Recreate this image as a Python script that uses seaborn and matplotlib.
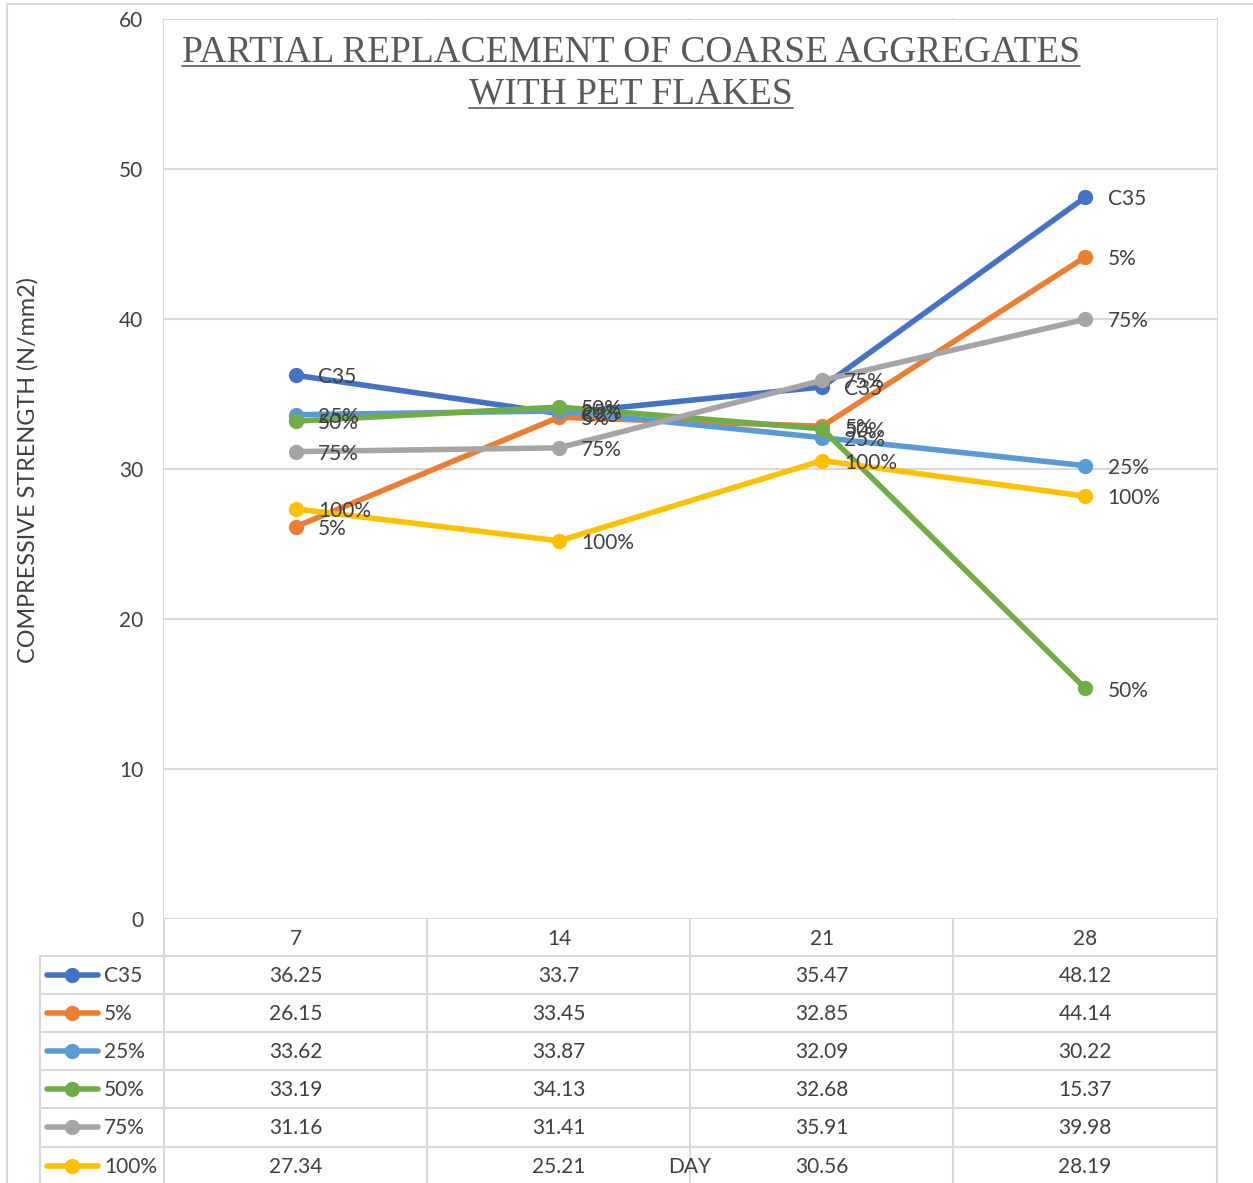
import numpy as np
import pandas as pd
import seaborn as sns
import matplotlib
matplotlib.use("Agg")
import matplotlib.pyplot as plt
from matplotlib.lines import Line2D

days = ["7", "14", "21", "28"]
series = ["C35", "5%", "25%", "50%", "75%", "100%"]
c35 = [36.25, 33.7, 35.47, 48.12]
p5 = [26.15, 33.45, 32.85, 44.14]
p25 = [33.62, 33.87, 32.09, 30.22]
p50 = [33.19, 34.13, 32.68, 15.37]
p75 = [31.16, 31.41, 35.91, 39.98]
p100 = [27.34, 25.21, 30.56, 28.19]
colors = ["#4472C4", "#ED7D31", "#5B9BD5", "#70AD47", "#A5A5A5", "#FFC000"]

values = [c35, p5, p25, p50, p75, p100]
df = pd.DataFrame({
    "day": days * len(series),
    "mix": np.repeat(series, len(days)),
    "strength": np.concatenate(values),
})

W, H = 1253, 1183
GRID = "#d9d9d9"
TXT = "#404040"
FONT = ["Lato", "DejaVu Sans"]
FS = 15

sns.set_style("white")
plt.rcParams["font.family"] = FONT


def fx(x):
    return x / W


def fy(y):
    return 1 - y / H


fig = plt.figure(figsize=(W / 100, H / 100), dpi=100)
ax = fig.add_axes([fx(164), fy(919), fx(1217) - fx(164), fy(19) - fy(919)])

sns.lineplot(data=df, x="day", y="strength", hue="mix", hue_order=series,
             palette=colors, marker="o", markersize=11, linewidth=4,
             markeredgewidth=0, legend=False, ax=ax, sort=False)

ax.set_xlim(-0.5, 3.5)
ax.set_ylim(0, 60)
ax.set_yticks(range(0, 61, 10))
ax.set_xticks([])
ax.set_xlabel("")
ax.set_ylabel("")
for s in ax.spines.values():
    s.set_visible(False)
ax.tick_params(axis="y", length=0, pad=15, labelsize=FS, labelcolor=TXT)
for v in range(0, 61, 10):
    ax.axhline(v, color=GRID, lw=1.5, zorder=0)

# data labels to the right of every point
for name, vals in zip(series, values):
    for i, v in enumerate(vals):
        ax.annotate(name, (i, v), xytext=(16, -1.5), textcoords="offset points",
                    va="center", ha="left", fontsize=FS, color=TXT, zorder=5)

# figure-level lines: outer border, vertical grid through the table, table rows
def hline(y, x0, x1):
    fig.add_artist(Line2D([fx(x0), fx(x1)], [fy(y), fy(y)], color=GRID, lw=1.5,
                          transform=fig.transFigure, zorder=0))


def vline(x, y0, y1):
    fig.add_artist(Line2D([fx(x), fx(x)], [fy(y0), fy(y1)], color=GRID, lw=1.5,
                          transform=fig.transFigure, zorder=0))


vline(7, 4, H)
hline(4, 7, W)
for x in [164, 427, 690, 953, 1217]:
    vline(x, 19, H)
vline(40, 956, H)
rows = [956, 994, 1032, 1070, 1108, 1147]
for y in rows:
    hline(y, 40, 1217)

centers = [296, 559, 822, 1085]
for x, d in zip(centers, days):
    fig.text(fx(x), fy(939), d, ha="center", va="center", fontsize=FS, color=TXT)

for r, (name, vals, c) in enumerate(zip(series, values, colors)):
    yc = rows[r] + 20
    fig.add_artist(Line2D([fx(47), fx(98)], [fy(yc - 1), fy(yc - 1)], color=c, lw=4,
                          solid_capstyle="round", transform=fig.transFigure))
    fig.add_artist(Line2D([fx(72)], [fy(yc - 1)], color=c, marker="o", markersize=11,
                          markeredgewidth=0, transform=fig.transFigure))
    fig.text(fx(104), fy(yc), name, ha="left", va="center", fontsize=FS, color=TXT)
    for x, v in zip(centers, vals):
        fig.text(fx(x), fy(yc), f"{v:g}", ha="center", va="center",
                 fontsize=FS, color=TXT)

fig.text(fx(690), fy(1167), "DAY", ha="center", va="center", fontsize=FS, color=TXT)
fig.text(fx(28), fy(470), "COMPRESSIVE STRENGTH (N/mm2)", rotation=90,
         ha="center", va="center", fontsize=16.8, color=TXT)

# title, underlined
t1 = fig.text(fx(631), fy(62), "PARTIAL REPLACEMENT OF COARSE AGGREGATES",
              ha="center", va="baseline", fontsize=26.9, color="#595959",
              family="Liberation Serif")
t2 = fig.text(fx(631), fy(104), "WITH PET FLAKES", ha="center", va="baseline",
              fontsize=26.9, color="#595959", family="Liberation Serif")
fig.canvas.draw()
r = fig.canvas.get_renderer()
for t, yu in [(t1, 66), (t2, 108)]:
    bb = t.get_window_extent(r)
    fig.add_artist(Line2D([bb.x0 / W, bb.x1 / W], [fy(yu), fy(yu)],
                          color="#595959", lw=1.2, transform=fig.transFigure))

fig.savefig("out.png", dpi=100)
